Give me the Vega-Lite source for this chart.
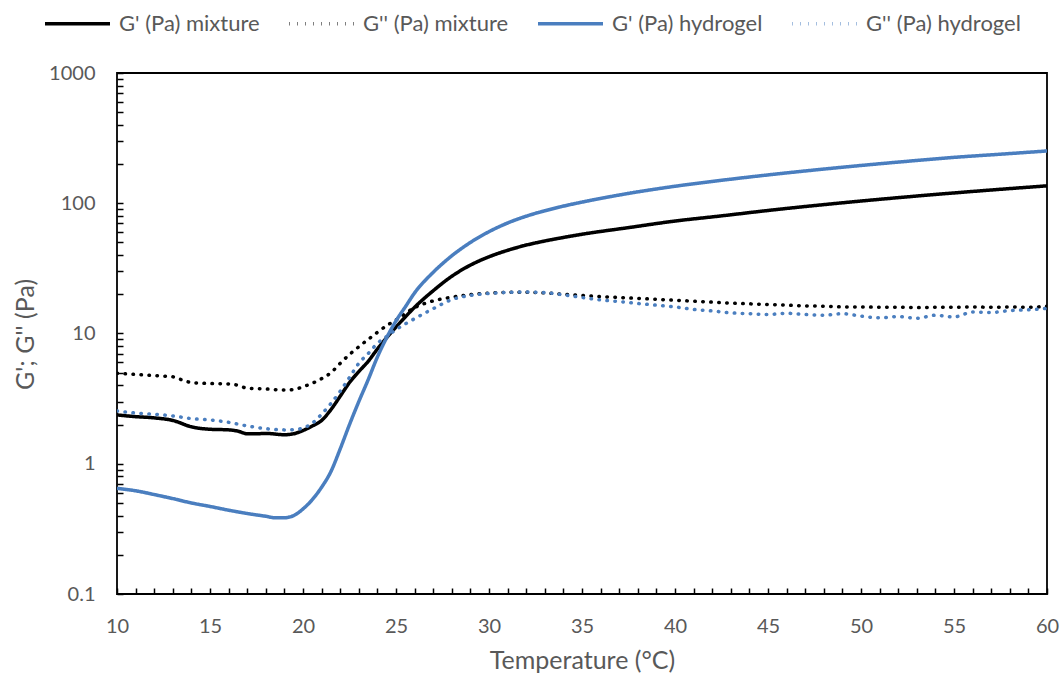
{
  "$schema": "https://vega.github.io/schema/vega-lite/v6.json",
  "autosize": {"type": "none"},
  "width": 930,
  "height": 521,
  "padding": {"left": 117, "top": 73, "right": 14, "bottom": 82},
  "background": "white",
  "config": {
    "font": "Lato",
    "view": {"stroke": "black", "strokeWidth": 1.8},
    "axis": {
      "grid": false,
      "domain": false,
      "ticks": true,
      "tickColor": "black",
      "tickWidth": 1.5,
      "tickSize": 6,
      "offset": -6,
      "labelColor": "#595959",
      "labelFontSize": 20,
      "labelPadding": 22,
      "titleColor": "#595959",
      "titleFontSize": 25,
      "titleFontWeight": "normal",
      "labelOverlap": false,
      "labelBound": false,
      "labelFlush": false
    },
    "legend": {
      "orient": "none",
      "legendX": -74,
      "legendY": -84,
      "direction": "horizontal",
      "columns": 4,
      "symbolType": "stroke",
      "symbolSize": 4225,
      "symbolStrokeWidth": 3.5,
      "labelFontSize": 22,
      "labelColor": "#595959",
      "labelOffset": 7,
      "columnPadding": 22,
      "padding": 0
    }
  },
  "data": {
    "values": [
      {"t": 10, "g": "G' (Pa) mixture", "v": 2.37},
      {"t": 11, "g": "G' (Pa) mixture", "v": 2.3},
      {"t": 12, "g": "G' (Pa) mixture", "v": 2.25},
      {"t": 13, "g": "G' (Pa) mixture", "v": 2.15},
      {"t": 14, "g": "G' (Pa) mixture", "v": 1.92},
      {"t": 15, "g": "G' (Pa) mixture", "v": 1.84},
      {"t": 16, "g": "G' (Pa) mixture", "v": 1.82},
      {"t": 16.5, "g": "G' (Pa) mixture", "v": 1.78},
      {"t": 17, "g": "G' (Pa) mixture", "v": 1.7},
      {"t": 17.5, "g": "G' (Pa) mixture", "v": 1.7},
      {"t": 18, "g": "G' (Pa) mixture", "v": 1.71},
      {"t": 19, "g": "G' (Pa) mixture", "v": 1.67},
      {"t": 19.5, "g": "G' (Pa) mixture", "v": 1.7},
      {"t": 20, "g": "G' (Pa) mixture", "v": 1.8},
      {"t": 20.5, "g": "G' (Pa) mixture", "v": 1.95},
      {"t": 21, "g": "G' (Pa) mixture", "v": 2.15},
      {"t": 21.5, "g": "G' (Pa) mixture", "v": 2.6},
      {"t": 22, "g": "G' (Pa) mixture", "v": 3.3},
      {"t": 22.5, "g": "G' (Pa) mixture", "v": 4.2},
      {"t": 23, "g": "G' (Pa) mixture", "v": 5.1},
      {"t": 23.5, "g": "G' (Pa) mixture", "v": 6.1},
      {"t": 24, "g": "G' (Pa) mixture", "v": 7.6},
      {"t": 24.5, "g": "G' (Pa) mixture", "v": 9.3},
      {"t": 25, "g": "G' (Pa) mixture", "v": 11.2},
      {"t": 25.5, "g": "G' (Pa) mixture", "v": 13.4},
      {"t": 26, "g": "G' (Pa) mixture", "v": 15.9},
      {"t": 27, "g": "G' (Pa) mixture", "v": 21.3},
      {"t": 28, "g": "G' (Pa) mixture", "v": 27.5},
      {"t": 29, "g": "G' (Pa) mixture", "v": 33.5},
      {"t": 30, "g": "G' (Pa) mixture", "v": 38.8},
      {"t": 31, "g": "G' (Pa) mixture", "v": 43.5},
      {"t": 32, "g": "G' (Pa) mixture", "v": 47.7},
      {"t": 33, "g": "G' (Pa) mixture", "v": 51.3},
      {"t": 34, "g": "G' (Pa) mixture", "v": 54.6},
      {"t": 35, "g": "G' (Pa) mixture", "v": 57.8},
      {"t": 37.5, "g": "G' (Pa) mixture", "v": 65},
      {"t": 40, "g": "G' (Pa) mixture", "v": 73},
      {"t": 42.5, "g": "G' (Pa) mixture", "v": 80},
      {"t": 45, "g": "G' (Pa) mixture", "v": 88},
      {"t": 47.5, "g": "G' (Pa) mixture", "v": 96},
      {"t": 50, "g": "G' (Pa) mixture", "v": 104},
      {"t": 52.5, "g": "G' (Pa) mixture", "v": 112},
      {"t": 55, "g": "G' (Pa) mixture", "v": 120},
      {"t": 57.5, "g": "G' (Pa) mixture", "v": 128},
      {"t": 60, "g": "G' (Pa) mixture", "v": 136},

      {"t": 10, "g": "G'' (Pa) mixture", "v": 4.95},
      {"t": 11, "g": "G'' (Pa) mixture", "v": 4.85},
      {"t": 12, "g": "G'' (Pa) mixture", "v": 4.75},
      {"t": 13, "g": "G'' (Pa) mixture", "v": 4.65},
      {"t": 13.5, "g": "G'' (Pa) mixture", "v": 4.4},
      {"t": 14, "g": "G'' (Pa) mixture", "v": 4.2},
      {"t": 15, "g": "G'' (Pa) mixture", "v": 4.13},
      {"t": 16, "g": "G'' (Pa) mixture", "v": 4.1},
      {"t": 16.5, "g": "G'' (Pa) mixture", "v": 4.0},
      {"t": 17, "g": "G'' (Pa) mixture", "v": 3.8},
      {"t": 18, "g": "G'' (Pa) mixture", "v": 3.75},
      {"t": 19, "g": "G'' (Pa) mixture", "v": 3.68},
      {"t": 19.5, "g": "G'' (Pa) mixture", "v": 3.72},
      {"t": 20, "g": "G'' (Pa) mixture", "v": 3.9},
      {"t": 20.5, "g": "G'' (Pa) mixture", "v": 4.15},
      {"t": 21, "g": "G'' (Pa) mixture", "v": 4.5},
      {"t": 21.5, "g": "G'' (Pa) mixture", "v": 5.0},
      {"t": 22, "g": "G'' (Pa) mixture", "v": 5.9},
      {"t": 22.5, "g": "G'' (Pa) mixture", "v": 6.9},
      {"t": 23, "g": "G'' (Pa) mixture", "v": 7.9},
      {"t": 23.5, "g": "G'' (Pa) mixture", "v": 9.0},
      {"t": 24, "g": "G'' (Pa) mixture", "v": 10.2},
      {"t": 24.5, "g": "G'' (Pa) mixture", "v": 11.5},
      {"t": 25, "g": "G'' (Pa) mixture", "v": 12.7},
      {"t": 26, "g": "G'' (Pa) mixture", "v": 15.8},
      {"t": 27, "g": "G'' (Pa) mixture", "v": 17.8},
      {"t": 28, "g": "G'' (Pa) mixture", "v": 19.0},
      {"t": 29, "g": "G'' (Pa) mixture", "v": 19.9},
      {"t": 30, "g": "G'' (Pa) mixture", "v": 20.4},
      {"t": 31, "g": "G'' (Pa) mixture", "v": 20.7},
      {"t": 32, "g": "G'' (Pa) mixture", "v": 20.7},
      {"t": 33, "g": "G'' (Pa) mixture", "v": 20.5},
      {"t": 34, "g": "G'' (Pa) mixture", "v": 20.0},
      {"t": 35, "g": "G'' (Pa) mixture", "v": 19.6},
      {"t": 36, "g": "G'' (Pa) mixture", "v": 19.2},
      {"t": 37, "g": "G'' (Pa) mixture", "v": 18.9},
      {"t": 38, "g": "G'' (Pa) mixture", "v": 18.6},
      {"t": 39, "g": "G'' (Pa) mixture", "v": 18.3},
      {"t": 40, "g": "G'' (Pa) mixture", "v": 18.0},
      {"t": 41, "g": "G'' (Pa) mixture", "v": 17.7},
      {"t": 42, "g": "G'' (Pa) mixture", "v": 17.4},
      {"t": 43, "g": "G'' (Pa) mixture", "v": 17.1},
      {"t": 44, "g": "G'' (Pa) mixture", "v": 16.9},
      {"t": 45, "g": "G'' (Pa) mixture", "v": 16.7},
      {"t": 46, "g": "G'' (Pa) mixture", "v": 16.5},
      {"t": 47, "g": "G'' (Pa) mixture", "v": 16.3},
      {"t": 48, "g": "G'' (Pa) mixture", "v": 16.2},
      {"t": 49, "g": "G'' (Pa) mixture", "v": 16.0},
      {"t": 50, "g": "G'' (Pa) mixture", "v": 16.0},
      {"t": 51, "g": "G'' (Pa) mixture", "v": 15.9},
      {"t": 52, "g": "G'' (Pa) mixture", "v": 15.9},
      {"t": 53, "g": "G'' (Pa) mixture", "v": 15.8},
      {"t": 54, "g": "G'' (Pa) mixture", "v": 15.9},
      {"t": 55, "g": "G'' (Pa) mixture", "v": 15.9},
      {"t": 56, "g": "G'' (Pa) mixture", "v": 16.0},
      {"t": 57, "g": "G'' (Pa) mixture", "v": 15.9},
      {"t": 58, "g": "G'' (Pa) mixture", "v": 16.0},
      {"t": 59, "g": "G'' (Pa) mixture", "v": 15.9},
      {"t": 60, "g": "G'' (Pa) mixture", "v": 16.2},

      {"t": 10, "g": "G' (Pa) hydrogel", "v": 0.647},
      {"t": 11, "g": "G' (Pa) hydrogel", "v": 0.62},
      {"t": 12, "g": "G' (Pa) hydrogel", "v": 0.58},
      {"t": 13, "g": "G' (Pa) hydrogel", "v": 0.54},
      {"t": 14, "g": "G' (Pa) hydrogel", "v": 0.5},
      {"t": 15, "g": "G' (Pa) hydrogel", "v": 0.47},
      {"t": 16, "g": "G' (Pa) hydrogel", "v": 0.44},
      {"t": 17, "g": "G' (Pa) hydrogel", "v": 0.415},
      {"t": 18, "g": "G' (Pa) hydrogel", "v": 0.395},
      {"t": 18.5, "g": "G' (Pa) hydrogel", "v": 0.385},
      {"t": 19, "g": "G' (Pa) hydrogel", "v": 0.385},
      {"t": 19.5, "g": "G' (Pa) hydrogel", "v": 0.4},
      {"t": 20, "g": "G' (Pa) hydrogel", "v": 0.45},
      {"t": 20.5, "g": "G' (Pa) hydrogel", "v": 0.53},
      {"t": 21, "g": "G' (Pa) hydrogel", "v": 0.66},
      {"t": 21.5, "g": "G' (Pa) hydrogel", "v": 0.87},
      {"t": 22, "g": "G' (Pa) hydrogel", "v": 1.3},
      {"t": 22.5, "g": "G' (Pa) hydrogel", "v": 2.0},
      {"t": 23, "g": "G' (Pa) hydrogel", "v": 3.0},
      {"t": 23.5, "g": "G' (Pa) hydrogel", "v": 4.4},
      {"t": 24, "g": "G' (Pa) hydrogel", "v": 6.6},
      {"t": 24.5, "g": "G' (Pa) hydrogel", "v": 9.3},
      {"t": 25, "g": "G' (Pa) hydrogel", "v": 12.5},
      {"t": 25.5, "g": "G' (Pa) hydrogel", "v": 16},
      {"t": 26, "g": "G' (Pa) hydrogel", "v": 20.5},
      {"t": 27, "g": "G' (Pa) hydrogel", "v": 29.5},
      {"t": 28, "g": "G' (Pa) hydrogel", "v": 39.5},
      {"t": 29, "g": "G' (Pa) hydrogel", "v": 50},
      {"t": 30, "g": "G' (Pa) hydrogel", "v": 60.5},
      {"t": 31, "g": "G' (Pa) hydrogel", "v": 70.5},
      {"t": 32, "g": "G' (Pa) hydrogel", "v": 79.5},
      {"t": 33, "g": "G' (Pa) hydrogel", "v": 87.5},
      {"t": 34, "g": "G' (Pa) hydrogel", "v": 95},
      {"t": 35, "g": "G' (Pa) hydrogel", "v": 102},
      {"t": 37.5, "g": "G' (Pa) hydrogel", "v": 119},
      {"t": 40, "g": "G' (Pa) hydrogel", "v": 135},
      {"t": 42.5, "g": "G' (Pa) hydrogel", "v": 150},
      {"t": 45, "g": "G' (Pa) hydrogel", "v": 165},
      {"t": 47.5, "g": "G' (Pa) hydrogel", "v": 180},
      {"t": 50, "g": "G' (Pa) hydrogel", "v": 195},
      {"t": 52.5, "g": "G' (Pa) hydrogel", "v": 210},
      {"t": 55, "g": "G' (Pa) hydrogel", "v": 225},
      {"t": 57.5, "g": "G' (Pa) hydrogel", "v": 238},
      {"t": 60, "g": "G' (Pa) hydrogel", "v": 252},

      {"t": 10, "g": "G'' (Pa) hydrogel", "v": 2.54},
      {"t": 11, "g": "G'' (Pa) hydrogel", "v": 2.45},
      {"t": 12, "g": "G'' (Pa) hydrogel", "v": 2.4},
      {"t": 13, "g": "G'' (Pa) hydrogel", "v": 2.33},
      {"t": 14, "g": "G'' (Pa) hydrogel", "v": 2.22},
      {"t": 15, "g": "G'' (Pa) hydrogel", "v": 2.17},
      {"t": 16, "g": "G'' (Pa) hydrogel", "v": 2.08},
      {"t": 17, "g": "G'' (Pa) hydrogel", "v": 1.95},
      {"t": 18, "g": "G'' (Pa) hydrogel", "v": 1.86},
      {"t": 19, "g": "G'' (Pa) hydrogel", "v": 1.82},
      {"t": 19.5, "g": "G'' (Pa) hydrogel", "v": 1.83},
      {"t": 20, "g": "G'' (Pa) hydrogel", "v": 1.88},
      {"t": 20.5, "g": "G'' (Pa) hydrogel", "v": 2.05},
      {"t": 21, "g": "G'' (Pa) hydrogel", "v": 2.4},
      {"t": 21.5, "g": "G'' (Pa) hydrogel", "v": 2.9},
      {"t": 22, "g": "G'' (Pa) hydrogel", "v": 3.6},
      {"t": 22.5, "g": "G'' (Pa) hydrogel", "v": 4.6},
      {"t": 23, "g": "G'' (Pa) hydrogel", "v": 5.9},
      {"t": 23.5, "g": "G'' (Pa) hydrogel", "v": 7.0},
      {"t": 24, "g": "G'' (Pa) hydrogel", "v": 8.4},
      {"t": 24.5, "g": "G'' (Pa) hydrogel", "v": 9.5},
      {"t": 25, "g": "G'' (Pa) hydrogel", "v": 10.7},
      {"t": 26, "g": "G'' (Pa) hydrogel", "v": 13.0},
      {"t": 27, "g": "G'' (Pa) hydrogel", "v": 15.5},
      {"t": 28, "g": "G'' (Pa) hydrogel", "v": 18.2},
      {"t": 29, "g": "G'' (Pa) hydrogel", "v": 19.6},
      {"t": 30, "g": "G'' (Pa) hydrogel", "v": 20.3},
      {"t": 31, "g": "G'' (Pa) hydrogel", "v": 20.7},
      {"t": 32, "g": "G'' (Pa) hydrogel", "v": 20.8},
      {"t": 33, "g": "G'' (Pa) hydrogel", "v": 20.6},
      {"t": 34, "g": "G'' (Pa) hydrogel", "v": 19.8},
      {"t": 35, "g": "G'' (Pa) hydrogel", "v": 18.9},
      {"t": 36, "g": "G'' (Pa) hydrogel", "v": 18.1},
      {"t": 37, "g": "G'' (Pa) hydrogel", "v": 17.6},
      {"t": 38, "g": "G'' (Pa) hydrogel", "v": 17.0},
      {"t": 39, "g": "G'' (Pa) hydrogel", "v": 16.5},
      {"t": 40, "g": "G'' (Pa) hydrogel", "v": 16.0},
      {"t": 41, "g": "G'' (Pa) hydrogel", "v": 15.3},
      {"t": 42, "g": "G'' (Pa) hydrogel", "v": 14.9},
      {"t": 43, "g": "G'' (Pa) hydrogel", "v": 14.4},
      {"t": 44, "g": "G'' (Pa) hydrogel", "v": 14.2},
      {"t": 45, "g": "G'' (Pa) hydrogel", "v": 14.0},
      {"t": 46, "g": "G'' (Pa) hydrogel", "v": 14.3},
      {"t": 47, "g": "G'' (Pa) hydrogel", "v": 14.0},
      {"t": 48, "g": "G'' (Pa) hydrogel", "v": 13.8},
      {"t": 49, "g": "G'' (Pa) hydrogel", "v": 14.2},
      {"t": 50, "g": "G'' (Pa) hydrogel", "v": 13.6},
      {"t": 51, "g": "G'' (Pa) hydrogel", "v": 13.2},
      {"t": 52, "g": "G'' (Pa) hydrogel", "v": 13.5},
      {"t": 53, "g": "G'' (Pa) hydrogel", "v": 13.1},
      {"t": 54, "g": "G'' (Pa) hydrogel", "v": 13.8},
      {"t": 55, "g": "G'' (Pa) hydrogel", "v": 13.4},
      {"t": 56, "g": "G'' (Pa) hydrogel", "v": 14.6},
      {"t": 57, "g": "G'' (Pa) hydrogel", "v": 14.5},
      {"t": 58, "g": "G'' (Pa) hydrogel", "v": 15.0},
      {"t": 59, "g": "G'' (Pa) hydrogel", "v": 15.2},
      {"t": 60, "g": "G'' (Pa) hydrogel", "v": 15.6}
    ]
  },
  "mark": {"type": "line", "strokeWidth": 3.5, "strokeCap": "round", "interpolate": "monotone", "clip": true},
  "encoding": {
    "x": {
      "field": "t",
      "type": "quantitative",
      "title": "Temperature (°C)",
      "scale": {"domain": [10, 60], "nice": false, "zero": false},
      "axis": {
        "values": [10,11,12,13,14,15,16,17,18,19,20,21,22,23,24,25,26,27,28,29,30,31,32,33,34,35,36,37,38,39,40,41,42,43,44,45,46,47,48,49,50,51,52,53,54,55,56,57,58,59,60],
        "labelExpr": "datum.value % 5 == 0 ? datum.label : ''",
        "titleY": 80,
        "titleBaseline": "alphabetic"
      }
    },
    "y": {
      "field": "v",
      "type": "quantitative",
      "title": "G'; G'' (Pa)",
      "scale": {"type": "log", "domain": [0.1, 1000], "nice": false},
      "axis": {
        "values": [0.1,0.2,0.3,0.4,0.5,0.6,0.7,0.8,0.9,1,2,3,4,5,6,7,8,9,10,20,30,40,50,60,70,80,90,100,200,300,400,500,600,700,800,900,1000],
        "format": "~g",
        "labelExpr": "indexof([0.1,1,10,100,1000], datum.value) >= 0 ? datum.label : ''",
        "titleX": -90,
        "titleY": 261,
        "titleAngle": -90,
        "titleAlign": "center",
        "titleBaseline": "alphabetic"
      }
    },
    "color": {
      "field": "g",
      "type": "nominal",
      "title": null,
      "scale": {
        "domain": ["G' (Pa) mixture", "G'' (Pa) mixture", "G' (Pa) hydrogel", "G'' (Pa) hydrogel"],
        "range": ["#000000", "#000000", "#4a7ebf", "#4a7ebf"]
      }
    },
    "strokeDash": {
      "field": "g",
      "type": "nominal",
      "title": null,
      "scale": {
        "domain": ["G' (Pa) mixture", "G'' (Pa) mixture", "G' (Pa) hydrogel", "G'' (Pa) hydrogel"],
        "range": [[1, 0], [0.5, 7.5], [1, 0], [0.5, 7.5]]
      }
    }
  }
}
